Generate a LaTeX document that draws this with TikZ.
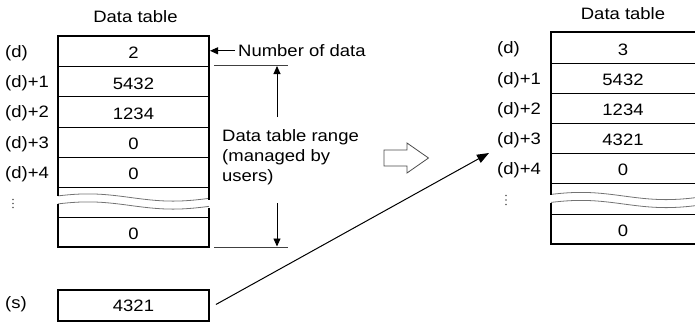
\documentclass[tikz,border=0pt]{standalone}
\usepackage{fontspec}
\setmainfont[FakeStretch=1.12]{Liberation Sans}
\usetikzlibrary{arrows.meta}
\begin{document}
\begin{tikzpicture}[x=1pt,y=-1pt,
  font=\fontsize{16.5}{18.5}\selectfont,
  outer/.style={line width=1.8pt},
  rowline/.style={line width=0.9pt},
  wave/.style={draw=black!55, line width=0.8pt},
  lbl/.style={anchor=west, inner sep=0pt},
  val/.style={inner sep=0pt},
  guide/.style={draw=black!75, line width=0.8pt},
  tiparrow/.style={line width=0.9pt, -{Triangle[length=8pt,width=7pt]}},
  hollow/.style={draw=black!70, line width=0.8pt, fill=white},
  dotmark/.style={fill=black!65, draw=none}]
\useasboundingbox (0,0) rectangle (695,322);
\clip (0,0) rectangle (695,322);

% ---------- left table ----------
\node[val] (ltitle) at (135.5,16.7) {Data table};
\foreach \y in {66.5,96.5,127,157,187,217}
  \draw[rowline] (58,\y) -- (209,\y);
\draw[wave] plot[domain=0:151, samples=60] ({58+\x},{197.5-3.6*cos((\x-30)*2.1176)});
\draw[wave] plot[domain=0:151, samples=60] ({58+\x},{205.5-3.6*cos((\x-30)*2.1176)});
\draw[outer] (58,196) -- (58,36) -- (209,36) -- (209,199.5);
\draw[outer] (58,204) -- (58,247) -- (209,247) -- (209,207.5);
\node[val] (lv0) at (133.5,53) {2};
\node[val] (lv1) at (133.5,83.5) {5432};
\node[val] (lv2) at (133.5,113.5) {1234};
\node[val] (lv3) at (133.5,144) {0};
\node[val] (lv4) at (133.5,174) {0};
\node[val] (lv5) at (133.5,234) {0};
\node[lbl] (ll0) at (5,53) {(d)};
\node[lbl] (ll1) at (5,83.5) {(d)+1};
\node[lbl] (ll2) at (5,113.5) {(d)+2};
\node[lbl] (ll3) at (5,144) {(d)+3};
\node[lbl] (ll4) at (5,174) {(d)+4};
\foreach \y in {199.5,203.5,207.5}
  \fill[dotmark] (13,\y) circle (0.9pt);

% ---------- source ----------
\node[draw, outer, minimum width=151pt, minimum height=31pt, inner sep=0pt] (sbox) at (133.5,305.5) {4321};
\node[lbl] (slbl) at (5,304) {(s)};

% ---------- annotations ----------
\node[lbl] (numtxt) at (238,50.8) {Number of data};
\coordinate (dedge) at (210,50.8);
\draw[tiparrow] (numtxt.west) ++(-3,0) -- (dedge);

\coordinate (rtop1) at (214,65.5);
\coordinate (rtop2) at (288,65.5);
\coordinate (rbot1) at (214,247);
\coordinate (rbot2) at (288,247);
\draw[guide] (rtop1) -- (rtop2);
\draw[guide] (rbot1) -- (rbot2);
\coordinate (upstart) at (277,117);
\coordinate (uptip) at (277,66);
\coordinate (dnstart) at (277,203);
\coordinate (dntip) at (277,246.5);
\draw[tiparrow] (upstart) -- (uptip);
\draw[tiparrow] (dnstart) -- (dntip);
\node[lbl, align=left, font=\fontsize{16.5}{20}\selectfont] (rangetxt) at (222,157) {Data table range\\(managed by\\users)};

\draw[hollow] (384,150) -- (407,150) -- (407,143) -- (428.5,158) -- (407,173) -- (407,166) -- (384,166) -- cycle;

\coordinate (tgt) at (489,153);
\draw[line width=1pt, -{Triangle[length=12pt,width=9pt]}] ([xshift=6pt,yshift=1pt]sbox.east) -- (tgt);

% ---------- right table ----------
\node[val] (rtitle) at (623,14) {Data table};
\foreach \y in {63,93.3,123.3,153.3,183.3,214.3}
  \draw[rowline] (551,\y) -- (697,\y);
\draw[wave] plot[domain=0:146, samples=60] ({551+\x},{196-3.6*cos((\x-30)*2.1176)});
\draw[wave] plot[domain=0:146, samples=60] ({551+\x},{204-3.6*cos((\x-30)*2.1176)});
\draw[outer] (551,194.5) -- (551,32.3) -- (697,32.3);
\draw[outer] (551,202.5) -- (551,244) -- (697,244);
\node[val] (rv0) at (623,49.7) {3};
\node[val] (rv1) at (623,80) {5432};
\node[val] (rv2) at (623,110) {1234};
\node[val] (rv3) at (623,140) {4321};
\node[val] (rv4) at (623,170) {0};
\node[val] (rv5) at (623,231) {0};
\node[lbl] (rl0) at (497,49.7) {(d)};
\node[lbl] (rl1) at (497,80) {(d)+1};
\node[lbl] (rl2) at (497,110) {(d)+2};
\node[lbl] (rl3) at (497,140) {(d)+3};
\node[lbl] (rl4) at (497,170) {(d)+4};
\foreach \y in {195.5,200,204.5}
  \fill[dotmark] (506,\y) circle (0.9pt);
\end{tikzpicture}
\end{document}
